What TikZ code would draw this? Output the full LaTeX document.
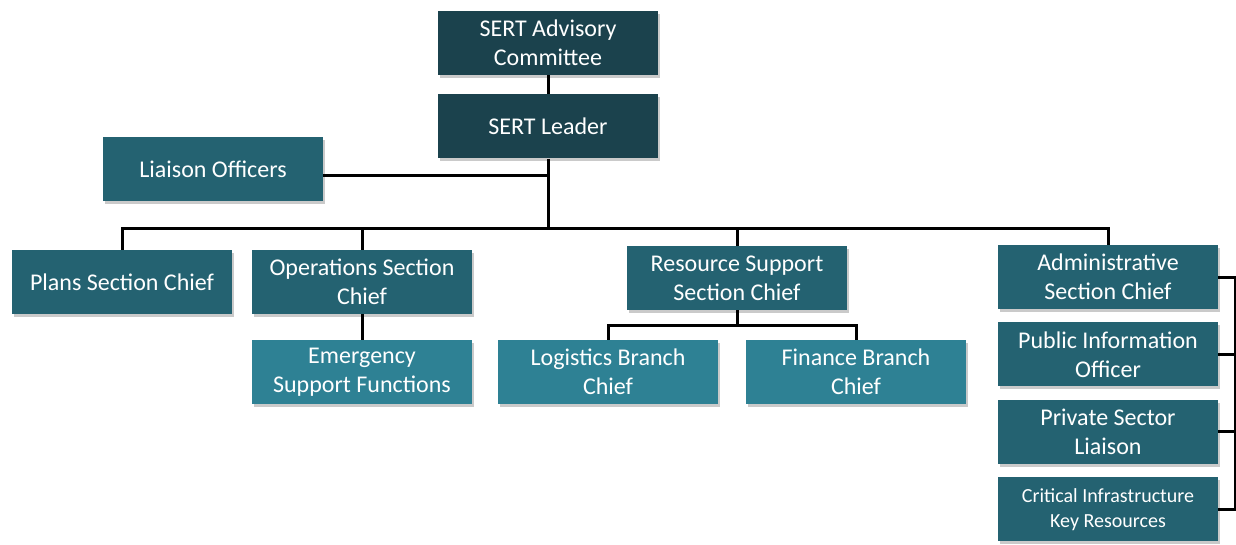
\documentclass[tikz,border=0pt]{standalone}
\usepackage{fontspec}
\setmainfont{Carlito}
\usepackage{tikz}
\usetikzlibrary{positioning,shadows,calc}

\definecolor{sertDark}{RGB}{27,66,77}
\definecolor{sertMid}{RGB}{36,98,113}
\definecolor{sertLight}{RGB}{46,129,148}

\begin{document}
\begin{tikzpicture}[x=1pt,y=-1pt]

\tikzstyle{unit} = [rectangle, minimum width=220pt, minimum height=64pt, inner sep=2pt, align=center, text=white, font={\fontsize{24}{29}\selectfont}, drop shadow={shadow xshift=2pt, shadow yshift=-3pt, opacity=0.35, fill=black!60}]
\tikzstyle{topUnit} = [unit, fill=sertDark]
\tikzstyle{sectionUnit} = [unit, fill=sertMid]
\tikzstyle{branchUnit} = [unit, fill=sertLight]
\tikzstyle{orgLine} = [black, line width=3pt]

\useasboundingbox (0,0) rectangle (1236,544);

% top of the chart
\node[topUnit, name=advisory] at (548,43) {SERT Advisory\\Committee};
\node[topUnit, name=leader, below=19pt of advisory] {SERT Leader};
\node[sectionUnit, name=liaison] at (213,169) {Liaison Officers};

% sections
\node[sectionUnit, name=plans] at (122,282) {Plans Section Chief};
\node[sectionUnit, name=ops] at (362,282) {Operations Section\\Chief};
\node[sectionUnit, name=resource] at (737,278) {Resource Support\\Section Chief};
\node[sectionUnit, name=admin] at (1108,277) {Administrative\\Section Chief};
\node[sectionUnit, name=pio, below=13pt of admin] {Public Information\\Officer};
\node[sectionUnit, name=privsec, below=13pt of pio] {Private Sector\\Liaison};
\node[sectionUnit, name=cikr, below=13pt of privsec, font={\fontsize{20}{25}\selectfont}] {Critical Infrastructure\\Key Resources};

% branches
\node[branchUnit, name=esf, below=26pt of ops] {Emergency\\Support Functions};
\node[branchUnit, name=logistics] at (608,372) {Logistics Branch\\Chief};
\node[branchUnit, name=finance] at (856,372) {Finance Branch\\Chief};

% connectors
\coordinate (hub) at (548,228);
\coordinate (rsHub) at (737,325);
\coordinate (rail) at (1235,0);

\draw[orgLine] (advisory) -- (leader);
\draw[orgLine] (leader.south) -- (hub);
\draw[orgLine] ([yshift=-6pt]liaison.east) -- ([yshift=-6pt]liaison.east -| hub);
\draw[orgLine] (plans.north) |- (hub) -| (admin.north);
\draw[orgLine] (ops.north) -- (ops.north |- hub);
\draw[orgLine] (resource.north) -- (resource.north |- hub);
\draw[orgLine] (ops) -- (esf);
\draw[orgLine] (resource.south) -- (rsHub);
\draw[orgLine] (logistics.north) |- (rsHub) -| (finance.north);
\draw[orgLine] (admin.east) -- (admin.east -| rail) -- (cikr.east -| rail) -- (cikr.east);
\draw[orgLine] (pio.east) -- (pio.east -| rail);
\draw[orgLine] (privsec.east) -- (privsec.east -| rail);
\end{tikzpicture}
\end{document}
